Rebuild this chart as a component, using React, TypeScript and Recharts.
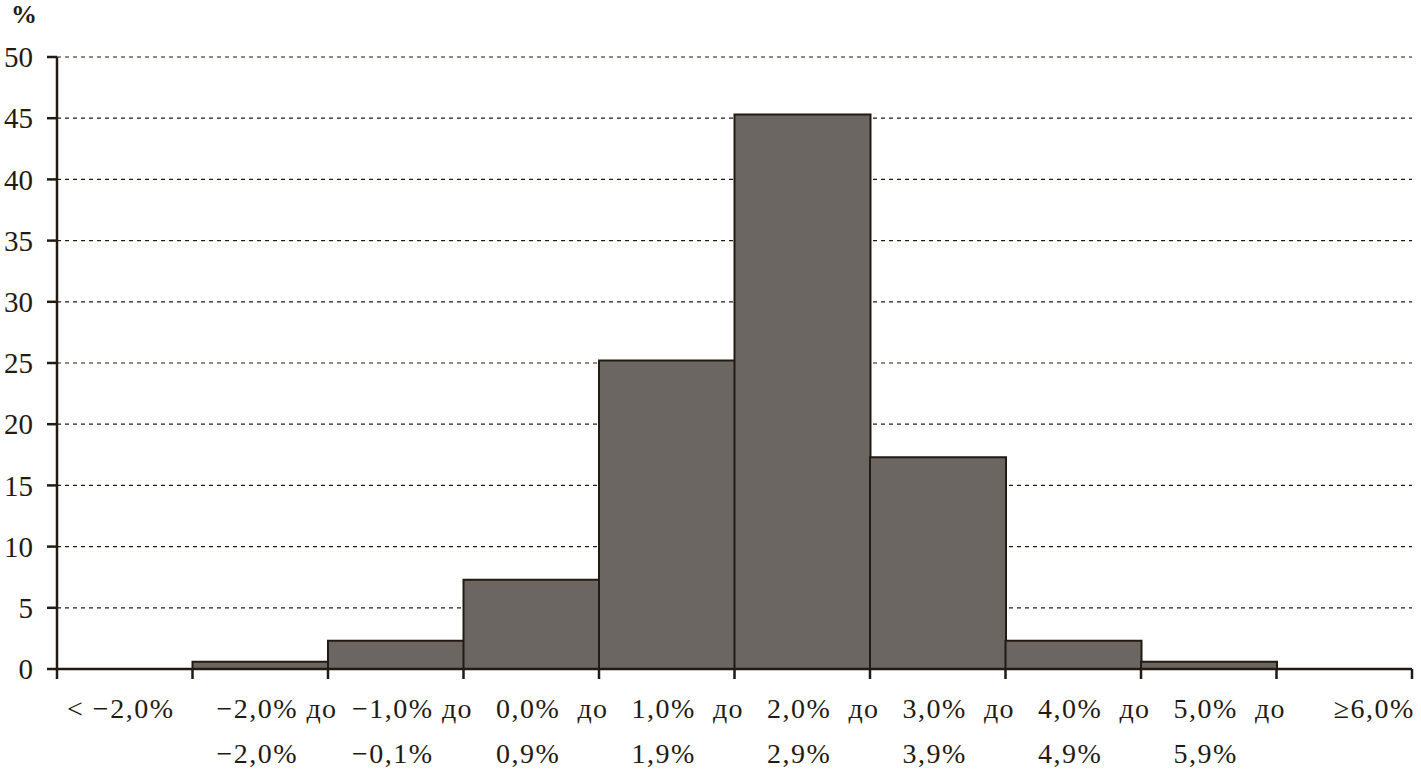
import React from "react";
import { BarChart, Bar, XAxis, YAxis, CartesianGrid } from "recharts";

const rangeFrom = ["< −2,0%", "−2,0%", "−1,0%", "0,0%", "1,0%", "2,0%", "3,0%", "4,0%", "5,0%", "≥6,0%"];
const rangeTo = ["", "−2,0%", "−0,1%", "0,9%", "1,9%", "2,9%", "3,9%", "4,9%", "5,9%", ""];
const shares = [0, 0.6, 2.3, 7.3, 25.2, 45.3, 17.3, 2.3, 0.6, 0];
const yTicks = [0, 5, 10, 15, 20, 25, 30, 35, 40, 45, 50];

const data = shares.map((v, i) => ({ name: String(i), value: v }));

const INK = "#231b12";
const FONT = "Liberation Serif, serif";
const W = 1421;
const H = 771;
const LEFT = 57;
const RIGHT = 9;
const BAND = (W - LEFT - RIGHT) / shares.length;

const txt = { fontFamily: FONT, fontSize: 28, letterSpacing: 1.5 };

// @ts-ignore
function CategoryTick(props) {
  const { x, y, index } = props;
  const i = index;
  const left = x - BAND / 2;
  const right = x + BAND / 2;
  const last = i === shares.length - 1;
  const shift = last ? 30 : i === 0 ? -4 : -3;
  return (
    <g>
      <line x1={left} y1={y - 8} x2={left} y2={y + 2} stroke={INK} strokeWidth={2.5} />
      {last && <line x1={right} y1={y - 8} x2={right} y2={y + 2} stroke={INK} strokeWidth={2.5} />}
      <text x={x + shift} y={y + 41} textAnchor="middle" fill={INK} style={txt}>
        {rangeFrom[i]}
      </text>
      {rangeTo[i] && (
        <text x={right - 6} y={y + 41} textAnchor="middle" fill={INK} style={txt}>
          до
        </text>
      )}
      {rangeTo[i] && (
        <text x={x - 3} y={y + 86} textAnchor="middle" fill={INK} style={txt}>
          {rangeTo[i]}
        </text>
      )}
    </g>
  );
}

export default function App() {
  return (
    <div style={{ position: "absolute", left: 0, top: 0, background: "#fff", fontFamily: FONT }}>
      <BarChart
        width={W}
        height={H}
        data={data}
        barCategoryGap={0}
        margin={{ top: 57, right: RIGHT, left: 0, bottom: 0 }}
      >
        <text x={11} y={23} fill={INK} style={{ fontFamily: FONT, fontSize: 26, fontWeight: "bold" }}>%</text>
        <CartesianGrid vertical={false} stroke={INK} strokeDasharray="4 4" strokeWidth={1.2} />
        <XAxis
          dataKey="name"
          height={102}
          tickLine={false}
          axisLine={{ stroke: INK, strokeWidth: 2.5 }}
          tick={<CategoryTick />}
          interval={0}
        />
        <YAxis
          width={LEFT}
          domain={[0, 50]}
          ticks={yTicks}
          interval={0}
          tickSize={10}
          tickMargin={14}
          tickLine={{ stroke: INK, strokeWidth: 2.5 }}
          axisLine={{ stroke: INK, strokeWidth: 2.5 }}
          tick={{ fill: INK, fontSize: 29, fontFamily: FONT }}
        />
        <Bar dataKey="value" fill="#6b6662" stroke={INK} strokeWidth={2} isAnimationActive={false} />
      </BarChart>
    </div>
  );
}
